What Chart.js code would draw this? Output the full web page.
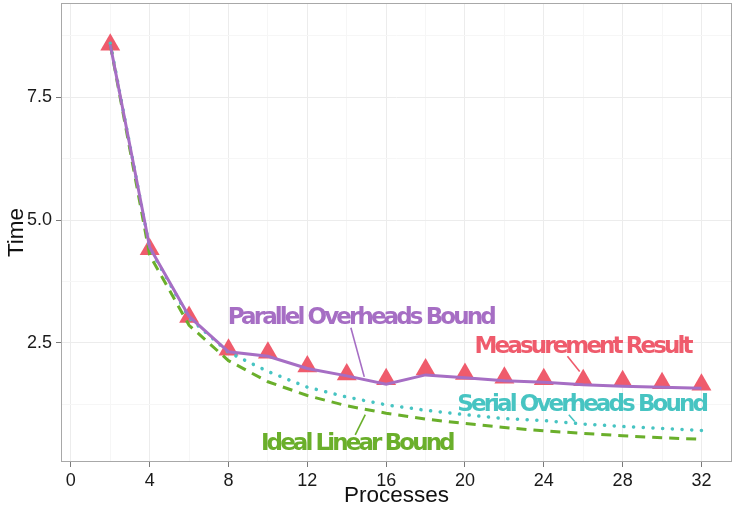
<!DOCTYPE html>
<html>
<head>
<meta charset="utf-8">
<script src="https://cdn.jsdelivr.net/npm/chart.js@4"></script>
<style>
  body { margin: 0; background: #fff; }
  canvas { display: block; }
</style>
</head>
<body>
<canvas id="chart" width="735" height="507"></canvas>
<script>
const processes = [2, 4, 6, 8, 10, 12, 14, 16, 18, 20, 22, 24, 26, 28, 30, 32];
const measured = [8.57, 4.41, 3.03, 2.36, 2.30, 2.02, 1.86, 1.76, 1.96, 1.87, 1.79, 1.76, 1.74, 1.72, 1.68, 1.65];
const parallelBound = [8.57, 4.45, 3.04, 2.32, 2.23, 1.98, 1.83, 1.66, 1.85, 1.79, 1.73, 1.70, 1.65, 1.62, 1.60, 1.58];
const serialBound = [8.60, 4.43, 3.01, 2.31, 1.92, 1.60, 1.40, 1.24, 1.13, 1.04, 0.96, 0.92, 0.85, 0.80, 0.76, 0.72];
const idealBound = [8.57, 4.29, 2.86, 2.14, 1.71, 1.43, 1.22, 1.07, 0.95, 0.86, 0.78, 0.71, 0.66, 0.61, 0.57, 0.54];

const xTickValues = [0, 4, 8, 12, 16, 20, 24, 28, 32];
const xGridValues = [0, 2, 4, 6, 8, 10, 12, 14, 16, 18, 20, 22, 24, 26, 28, 30, 32];
const yTickValues = [2.5, 5.0, 7.5];
const yTickLabels = ['2.5', '5.0', '7.5'];
const yGridValues = [1.25, 2.5, 3.75, 5.0, 6.25, 7.5, 8.75];

// label text + where it sits, and the short pointer line (data coords)
const labels = [
  { text: 'Parallel Overheads Bound', color: '#a66ec4', x: 14.71, y: 3.0, from: [14.21, 2.81], to: [14.89, 1.81] },
  { text: 'Measurement Result', color: '#ef5b6c', x: 25.97, y: 2.42, from: [25.2, 2.23], to: [25.82, 1.92] },
  { text: 'Serial Overheads Bound', color: '#47c4c2', x: 25.92, y: 1.24, from: [25.27, 1.04], to: [25.57, 0.90] },
  { text: 'Ideal Linear Bound', color: '#6aaf2b', x: 14.51, y: 0.45, from: [14.94, 1.04], to: [14.43, 0.63] }
];

const toXY = (xs, ys) => xs.map((x, i) => ({ x: x, y: ys[i] }));

const panelBorder = {
  id: 'panelBorder',
  beforeDatasetsDraw(chart) {
    const { ctx, chartArea: a } = chart;
    ctx.save();
    ctx.strokeStyle = '#a8a8a8';
    ctx.lineWidth = 1;
    ctx.strokeRect(a.left + 0.5, a.top + 0.5, a.right - a.left - 1, a.bottom - a.top - 1);
    ctx.restore();
  }
};

const lineLabels = {
  id: 'lineLabels',
  afterDatasetsDraw(chart) {
    const { ctx, scales: { x, y } } = chart;
    ctx.save();
    labels.forEach(l => {
      ctx.strokeStyle = l.color;
      ctx.lineWidth = 1.6;
      ctx.beginPath();
      ctx.moveTo(x.getPixelForValue(l.from[0]), y.getPixelForValue(l.from[1]));
      ctx.lineTo(x.getPixelForValue(l.to[0]), y.getPixelForValue(l.to[1]));
      ctx.stroke();
      ctx.font = 'bold 23px "DejaVu Sans"';
      ctx.letterSpacing = '-2.9px';
      ctx.fillStyle = l.color;
      ctx.textAlign = 'center';
      ctx.textBaseline = 'middle';
      ctx.fillText(l.text, x.getPixelForValue(l.x), y.getPixelForValue(l.y));
    });
    ctx.restore();
  }
};

new Chart(document.getElementById('chart').getContext('2d'), {
  type: 'line',
  data: {
    datasets: [
      {
        label: 'Parallel Overheads Bound',
        data: toXY(processes, parallelBound),
        borderColor: '#a66ec4',
        borderWidth: 3,
        pointRadius: 0,
        order: 1
      },
      {
        label: 'Ideal Linear Bound',
        data: toXY(processes, idealBound),
        borderColor: '#6aaf2b',
        borderWidth: 3,
        borderDash: [10, 7],
        pointRadius: 0,
        order: 2
      },
      {
        label: 'Serial Overheads Bound',
        data: toXY(processes, serialBound),
        borderColor: '#47c4c2',
        borderWidth: 3.5,
        borderDash: [0.1, 9.6],
        borderCapStyle: 'round',
        pointRadius: 0,
        order: 3
      },
      {
        label: 'Measurement Result',
        data: toXY(processes, measured),
        showLine: false,
        pointStyle: 'triangle',
        pointRadius: 11.5,
        pointBorderWidth: 0,
        pointBackgroundColor: '#ef5b6c',
        order: 4
      }
    ]
  },
  options: {
    responsive: false,
    animation: false,
    layout: { autoPadding: false, padding: { top: 3, right: 3, left: 0, bottom: 0 } },
    plugins: { legend: { display: false }, tooltip: { enabled: false } },
    scales: {
      x: {
        type: 'linear',
        min: -0.5,
        max: 33.55,
        afterBuildTicks: s => { s.ticks = xGridValues.map(v => ({ value: v })); },
        afterFit: s => { s.height = 45; s.paddingLeft = 0; s.paddingRight = 0; },
        grid: {
          color: c => xTickValues.includes(c.tick.value) ? '#ececec' : '#f6f6f6',
          tickColor: c => xTickValues.includes(c.tick.value) ? '#7a7a7a' : 'rgba(0,0,0,0)',
          tickLength: 5
        },
        border: { display: false },
        ticks: {
          autoSkip: false,
          maxRotation: 0,
          padding: 3,
          color: '#1a1a1a',
          font: { family: 'Liberation Sans', size: 18 },
          callback: v => xTickValues.includes(v) ? String(v) : ''
        },
        title: {
          display: true,
          text: 'Processes',
          color: '#111',
          padding: 0,
          font: { family: 'Liberation Sans', size: 22.5, lineHeight: 1 }
        }
      },
      y: {
        type: 'linear',
        min: 0.077,
        max: 9.42,
        afterBuildTicks: s => { s.ticks = yGridValues.map(v => ({ value: v })); },
        afterFit: s => { s.width = 61; s.paddingTop = 0; s.paddingBottom = 0; },
        grid: {
          color: c => yTickValues.includes(c.tick.value) ? '#ececec' : '#f6f6f6',
          tickColor: c => yTickValues.includes(c.tick.value) ? '#7a7a7a' : 'rgba(0,0,0,0)',
          tickLength: 5
        },
        border: { display: false },
        ticks: {
          autoSkip: false,
          padding: 4,
          color: '#1a1a1a',
          font: { family: 'Liberation Sans', size: 18 },
          callback: v => {
            const i = yTickValues.indexOf(v);
            return i >= 0 ? yTickLabels[i] : '';
          }
        },
        title: {
          display: true,
          text: 'Time',
          color: '#111',
          padding: { top: 6, bottom: 0 },
          font: { family: 'Liberation Sans', size: 22.5, lineHeight: 1 }
        }
      }
    }
  },
  plugins: [panelBorder, lineLabels]
});
</script>
</body>
</html>
